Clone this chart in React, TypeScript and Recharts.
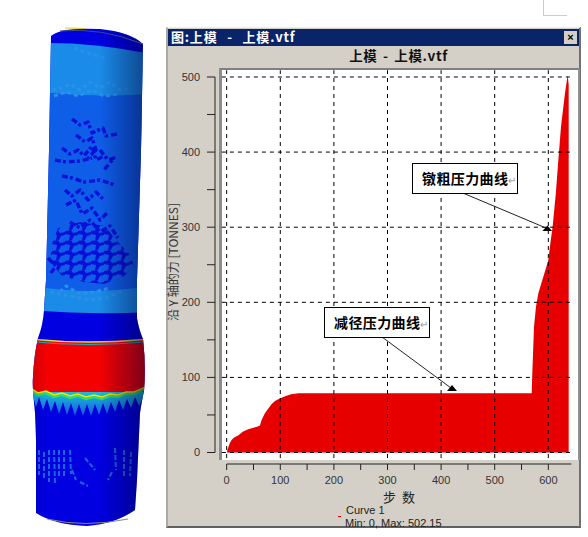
import React from "react";
import { ComposedChart, Area, XAxis, YAxis, ReferenceLine } from "recharts";

const stepValues = [0, 1, 2, 5, 9, 14, 22, 30, 40, 50, 58, 62, 65, 71, 78, 84, 90, 99, 109, 120, 134, 200, 300, 400, 500, 569, 569.7, 571, 573.3, 577, 581.4, 590.7, 600, 603, 608, 614, 618.7, 623.7, 631, 636, 638, 638];
const forceValues = [0, 2, 5, 11, 16.6, 20, 23, 27.5, 31, 33, 34.5, 36, 43, 52, 59, 64.5, 68.6, 72, 75, 77.5, 79, 79, 79, 79, 79, 79, 96.5, 123, 167.5, 194, 212, 234, 256, 274, 300.7, 345, 389.5, 434, 478, 502.15, 490, 0];
const chartData = stepValues.map((step, i) => ({ step, force: forceValues[i] }));

const xTicks = [0, 50, 100, 150, 200, 250, 300, 350, 400, 450, 500, 550, 600];
const yTicks = [0, 50, 100, 150, 200, 250, 300, 350, 400, 450, 500];
const xGrid = [0, 100, 200, 300, 400, 500, 600];
const yGrid = [0, 100, 200, 300, 400, 500];

const xDomain: [number, number] = [-21.8, 653.5];
const yDomain: [number, number] = [-15.3, 509.3];

const windowTitle = "图:上模 - 上模.vtf";
const chartTitle = "上模 - 上模.vtf";
const yTitle = "沿 Y 轴的力 [TONNES]";
const xTitle = "步 数";
const legendName = "Curve 1";
const legendStats = "Min: 0, Max: 502.15";
const noteUpset = "镦粗压力曲线";
const noteReduce = "减径压力曲线";

const axisFont = { fontFamily: "Liberation Sans", fontSize: 11, fill: "#333" };
const cjk = '"Noto Sans CJK SC", sans-serif';

const abs = (l: number, t: number, w: number, h: number, extra: React.CSSProperties = {}): React.CSSProperties => ({
  position: "absolute", left: l, top: t, width: w, height: h, ...extra,
});

const bodyOutline =
  "M51 36 Q60 27 100 29 Q130 32 143 44 L141 150 L137 280 L137 318 Q139 330 143 339 Q146 365 144 391 Q142 400 140 413 L137 480 L135 510 Q115 524 87 526 Q55 525 36 513 L36 440 L35 413 Q32 385 33 377 Q34 355 38 338 Q43 325 44 310 L46 280 L49 150 Z";

const denseArea = "M58 228 L80 222 L105 226 L116 240 L128 252 L134 266 L124 276 L104 284 L84 282 L62 276 L50 262 L52 244 Z";

const scribbles = [
  "M72 119 L80 125 L88 122 L92 133 L103 128 L106 136 L118 134",
  "M76 135 L85 142 L92 138 L96 150 L88 158",
  "M62 148 L70 154 L78 150 L84 156 L92 146 L96 160 L104 156",
  "M55 160 L66 162 L80 161 L92 158",
  "M100 150 L108 160 L114 158 L104 170",
  "M62 176 L72 178 L84 182 L100 180 L112 184 L116 186",
  "M65 190 L72 196 L80 190 L88 200 L96 192 L104 200",
  "M66 205 L76 200 L82 214 L92 208 L100 220 L108 212",
  "M70 222 L80 228 L90 220 L100 232 L110 226 L118 238",
  "M48 258 L56 266 L50 274",
];

const lightFlecks = [
  "M52 90 L62 88 L70 84 L80 90 L90 82 L100 88 L110 82 L120 90 L132 88",
  "M54 96 L66 92 L78 96 L92 90 L104 96 L118 94",
  "M74 48 L90 54 L106 58",
  "M50 292 L70 296 L90 300 L106 298 L124 290",
  "M60 292 L66 286 L80 294 L94 292 L110 288",
];

const lowFlecks = [
  "M39 450 L39 475", "M44 452 L44 480", "M49 450 L49 482", "M54 450 L55 484", "M59 450 L59 476",
  "M64 450 L64 478", "M70 450 L71 474", "M72 470 L76 480", "M85 458 L95 470", "M80 482 L88 486",
  "M115 448 L116 470", "M124 450 L124 478", "M131 452 L130 476", "M112 472 L108 480",
];

function Cylinder() {
  return (
    <svg width={588} height={537} style={abs(0, 0, 588, 537)}>
      <defs>
        <clipPath id="bodyClip"><path d={bodyOutline} /></clipPath>
        <linearGradient id="shade" x1="0" x2="1" y1="0" y2="0">
          <stop offset="0" stopColor="#000040" stopOpacity={0.15} />
          <stop offset="0.15" stopColor="#000040" stopOpacity={0} />
          <stop offset="0.6" stopColor="#000040" stopOpacity={0} />
          <stop offset="1" stopColor="#000030" stopOpacity={0.5} />
        </linearGradient>
        <linearGradient id="teeth" x1="0" x2="0" y1="0" y2="1">
          <stop offset="0" stopColor="#1ac0d8" />
          <stop offset="1" stopColor="#1458e0" />
        </linearGradient>
        <pattern id="blotch" width="13" height="10" patternUnits="userSpaceOnUse">
          <path d="M0 1 L6 0 L8 3 L13 2 L13 5 L9 6 L7 10 L4 10 L5 5 L0 4 Z" fill="#0a10d8" />
        </pattern>
      </defs>
      <g clipPath="url(#bodyClip)">
        <rect x={25} y={20} width={130} height={520} fill="#0000e0" />
        <path d="M40 43 Q95 42 150 54 L150 100 L40 100 Z" fill="#1a8be8" />
        <path d="M40 92 Q95 98 150 94 L150 300 L40 300 Z" fill="#0f5ee8" />
        <path d="M30 286 Q95 296 150 286 L150 312 Q95 315 30 310 Z" fill="#1a8be6" />
        <path d="M25 338 Q88 345 150 338 L150 392 Q88 402 25 392 Z" fill="#f40000" />
        <path d="M32 392 L36 407 L39 397 L43 410 L47 399 L51 412 L55 401 L59 414 L63 402 L67 415 L71 403 L75 416 L79 404 L83 416 L87 404 L91 416 L95 404 L99 415 L103 403 L107 414 L111 402 L115 412 L119 400 L123 410 L127 399 L131 408 L135 397 L139 406 L146 392 Z" fill="url(#teeth)" />
        <path d="M30 390 L38 395 L46 393 L54 397 L62 395 L70 398 L78 396 L86 399 L94 397 L102 399 L110 396 L118 397 L126 394 L134 394 L146 389" fill="none" stroke="#30e060" strokeWidth={2.2} />
        <path d="M30 388 L38 393 L46 391 L54 395 L62 393 L70 396 L78 394 L86 397 L94 395 L102 397 L110 394 L118 395 L126 392 L134 392 L146 387" fill="none" stroke="#f0e800" strokeWidth={1.6} />
        <path d="M30 339 Q88 345 150 339" fill="none" stroke="#d8d840" strokeWidth={1.4} />
        <path d="M30 341.5 Q88 347.5 150 341.5" fill="none" stroke="#20a8c0" strokeWidth={1} />
        {lightFlecks.map((d) => (
          <path key={d} d={d} fill="none" stroke="#2a90e8" strokeWidth={3} strokeDasharray="4 3" />
        ))}
        <path d={denseArea} fill="url(#blotch)" />
        {scribbles.map((d) => (
          <path key={d} d={d} fill="none" stroke="#0a10d8" strokeWidth={3.4} strokeLinejoin="round" strokeDasharray="6 2 3 3" />
        ))}
        {lowFlecks.map((d) => (
          <path key={d} d={d} fill="none" stroke="#1a66e0" strokeWidth={2} strokeDasharray="5 2" />
        ))}
        <rect x={30} y={20} width={116} height={520} fill="url(#shade)" />
      </g>
      <path d="M60 31 Q100 27 143 44" fill="none" stroke="#3a4a90" strokeWidth={1} />
      <path d="M65 28 L85 28.5" fill="none" stroke="#e0c820" strokeWidth={1} />
      <path d="M47 519 Q85 528 128 519" fill="none" stroke="#888" strokeWidth={1} />
    </svg>
  );
}

function WindowFrame() {
  return (
    <div style={abs(166, 27, 415, 501, { boxSizing: "border-box", background: "#d4d0c8", borderTop: "1px solid #eeeeee", borderLeft: "2px solid #a8a8a4", borderRight: "2px solid #707070", borderBottom: "2px solid #606060" })}>
      <div style={abs(0, 1, 411, 17, { background: "#0a246a", color: "#fff", fontFamily: cjk, fontWeight: 700, fontSize: 13, lineHeight: "16px", paddingLeft: 3, boxSizing: "border-box", whiteSpace: "pre", letterSpacing: 0.8, wordSpacing: 6 })}>{windowTitle}</div>
      <div style={abs(396, 3, 13, 13, { background: "#d4d0c8", fontFamily: "Liberation Sans", fontWeight: 700, fontSize: 11, lineHeight: "13px", textAlign: "center", color: "#000" })}>×</div>
      <div style={abs(25, 18, 411, 20, { fontFamily: cjk, fontWeight: 700, fontSize: 13.5, lineHeight: "18px", textAlign: "center", color: "#111", whiteSpace: "pre", letterSpacing: 0.6, wordSpacing: 2 })}>{chartTitle}</div>
    </div>
  );
}

function Note({ left, top, text }: { left: number; top: number; text: string }) {
  return (
    <div style={abs(left, top, 106, 31, { boxSizing: "border-box", border: "1px solid #000", background: "#fff", paddingLeft: 9, fontFamily: cjk, fontWeight: 700, fontSize: 14, lineHeight: "28px", color: "#000", whiteSpace: "nowrap", letterSpacing: 0.4 })}>
      {text}<span style={{ color: "#999", fontWeight: 400, fontSize: 10 }}>↵</span>
    </div>
  );
}

export default function App() {
  return (
    <div style={abs(0, 0, 588, 537, { background: "#fff", overflow: "hidden" })}>
      <Cylinder />
      <div style={abs(543, 0, 1, 15, { background: "#ccc" })} />
      <div style={abs(543, 15, 24, 1, { background: "#ccc" })} />
      <WindowFrame />
      <div style={abs(219, 68, 361, 392, { background: "#fff", boxSizing: "border-box", borderTop: "2px solid #808080", borderLeft: "3px solid #8c8c8c", borderRight: "2px solid #909090" })} />
      <div style={abs(0, 0, 588, 537)}>
        <ComposedChart width={588} height={537} data={chartData} margin={{ top: 70, right: 11, bottom: 43, left: 155 }}>
          <XAxis
            dataKey="step" type="number" domain={xDomain} ticks={xTicks} interval={0} allowDataOverflow
            height={30} axisLine={false} tickSize={6} tickMargin={6} stroke="#222"
            tick={axisFont} tickFormatter={(v: number) => (v % 100 === 0 ? String(v) : "")}
          />
          <YAxis
            type="number" domain={yDomain} ticks={yTicks} interval={0} allowDataOverflow
            width={60} axisLine={false} tickSize={8} tickMargin={7} stroke="#222"
            tick={axisFont} tickFormatter={(v: number) => (v % 100 === 0 ? String(v) : "")}
          />
          {xGrid.map((v) => (
            <ReferenceLine key={"gx" + v} ifOverflow="visible" stroke="#000" strokeDasharray="4 4" segment={[{ x: v, y: -7.3 }, { x: v, y: 509 }]} />
          ))}
          {yGrid.map((v) => (
            <ReferenceLine key={"gy" + v} ifOverflow="visible" stroke="#000" strokeDasharray="4 4" segment={[{ x: -9, y: v }, { x: 644, y: v }]} />
          ))}
          <ReferenceLine ifOverflow="visible" stroke="#222" segment={[{ x: xDomain[0], y: 0 }, { x: xDomain[0], y: 500 }]} />
          <ReferenceLine ifOverflow="visible" stroke="#222" segment={[{ x: 0, y: yDomain[0] }, { x: 643, y: yDomain[0] }]} />
          <Area type="linear" dataKey="force" baseValue={0} stroke="none" fill="#e60000" fillOpacity={1} isAnimationActive={false} dot={false} activeDot={false} />
        </ComposedChart>
      </div>
      <svg width={588} height={537} style={abs(0, 0, 588, 537)}>
        <line x1={464} y1={193.5} x2={546} y2={228} stroke="#222" />
        <polygon points="547.3,225.5 542.5,231 552,231" fill="#000" />
        <line x1={382.7} y1={337.5} x2={451} y2={388} stroke="#222" />
        <polygon points="452,385 447,391 457,391" fill="#000" />
        <line x1={338} x2={341} y1={516.5} y2={516.5} stroke="#e60000" />
        <text x={175} y={262} transform="rotate(-90 175 262)" textAnchor="middle" dominantBaseline="middle" fontFamily={cjk} fontSize={12} fill="#333">{yTitle}</text>
        <text x={399} y={498} textAnchor="middle" dominantBaseline="middle" fontFamily={cjk} fontSize={13} fill="#222" style={{ whiteSpace: "pre" }} wordSpacing={3}>{xTitle}</text>
      </svg>
      <Note left={412} top={163} text={noteUpset} />
      <Note left={324} top={307} text={noteReduce} />
      <div style={abs(346, 503, 120, 14, { fontFamily: "Liberation Sans", fontSize: 11, lineHeight: "14px", color: "#222" })}>{legendName}</div>
      <div style={abs(345, 516, 140, 14, { fontFamily: "Liberation Sans", fontSize: 11, lineHeight: "14px", color: "#222" })}>{legendStats}</div>
    </div>
  );
}
